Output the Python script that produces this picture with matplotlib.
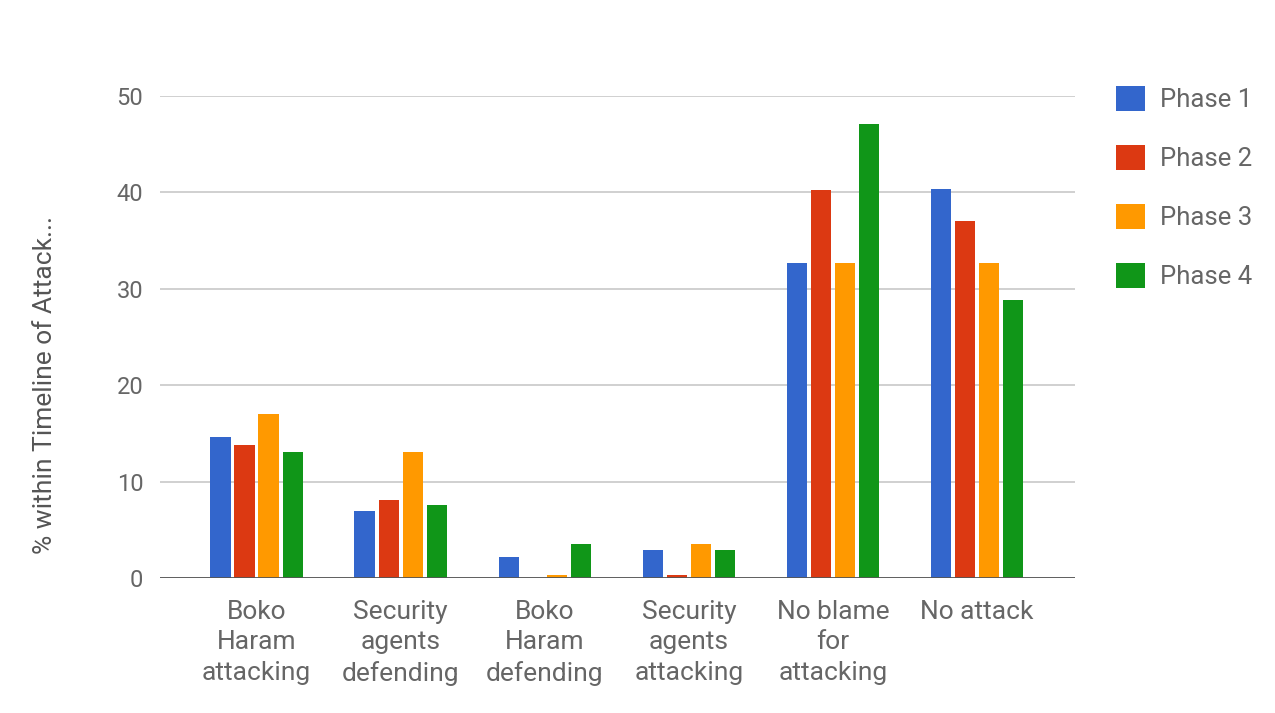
import matplotlib.pyplot as plt
import numpy as np

# Categories and values (percent within timeline of attack)
categories = ["Boko\nHaram\nattacking", "Security\nagents\ndefending", "Boko\nHaram\ndefending",
              "Security\nagents\nattacking", "No blame\nfor\nattacking", "No attack"]
phases = ["Phase 1", "Phase 2", "Phase 3", "Phase 4"]
phase1 = [14.6, 6.9, 2.2, 2.9, 32.7, 40.4]
phase2 = [13.8, 8.1, 0.0, 0.3, 40.2, 37.0]
phase3 = [17.0, 13.1, 0.3, 3.5, 32.7, 32.7]
phase4 = [13.1, 7.6, 3.5, 2.9, 47.1, 28.8]
colors = ["#3366CC", "#DC3912", "#FF9900", "#109618"]

plt.rcParams['font.family'] = ['Roboto', 'DejaVu Sans']

fig = plt.figure(figsize=(12.75, 7.13), dpi=100)
ax = fig.add_axes([160 / 1275, 1 - 578 / 713, 915 / 1275, (578 - 96) / 713])

x = np.arange(len(categories))
pitch = 0.167
width = 0.14
for i, (vals, name) in enumerate(zip([phase1, phase2, phase3, phase4], phases)):
    ax.bar(x + (i - 1.5) * pitch, vals, width, color=colors[i], label=name, zorder=3)

ax.set_ylim(0, 50)
ax.set_xlim(-0.67, 5.68)
ax.set_yticks([0, 10, 20, 30, 40, 50])
ax.yaxis.grid(True, color="#c8c8c8", linewidth=1.2, zorder=0)
ax.axhline(0, color="#555555", linewidth=2, zorder=4)
for s in ax.spines.values():
    s.set_visible(False)
ax.tick_params(axis="both", length=0, labelcolor="#666666")
ax.tick_params(axis="y", pad=12, labelsize=17)
ax.set_xticks(x)
ax.set_xticklabels(categories, linespacing=1.33)
ax.tick_params(axis="x", pad=16, labelsize=19)

fig.text(45 / 1275, 1 - 385 / 713, "% within Timeline of Attack...", rotation=90,
         ha="center", va="center", fontsize=19, color="#555555")

leg = ax.legend(loc="upper left", bbox_to_anchor=(1.02, 1.068), frameon=False,
                fontsize=18.5, labelspacing=1.28, handlelength=1.1, handleheight=1.1,
                handletextpad=0.6)
for t in leg.get_texts():
    t.set_color("#666666")

fig.savefig("out.png", dpi=100)
